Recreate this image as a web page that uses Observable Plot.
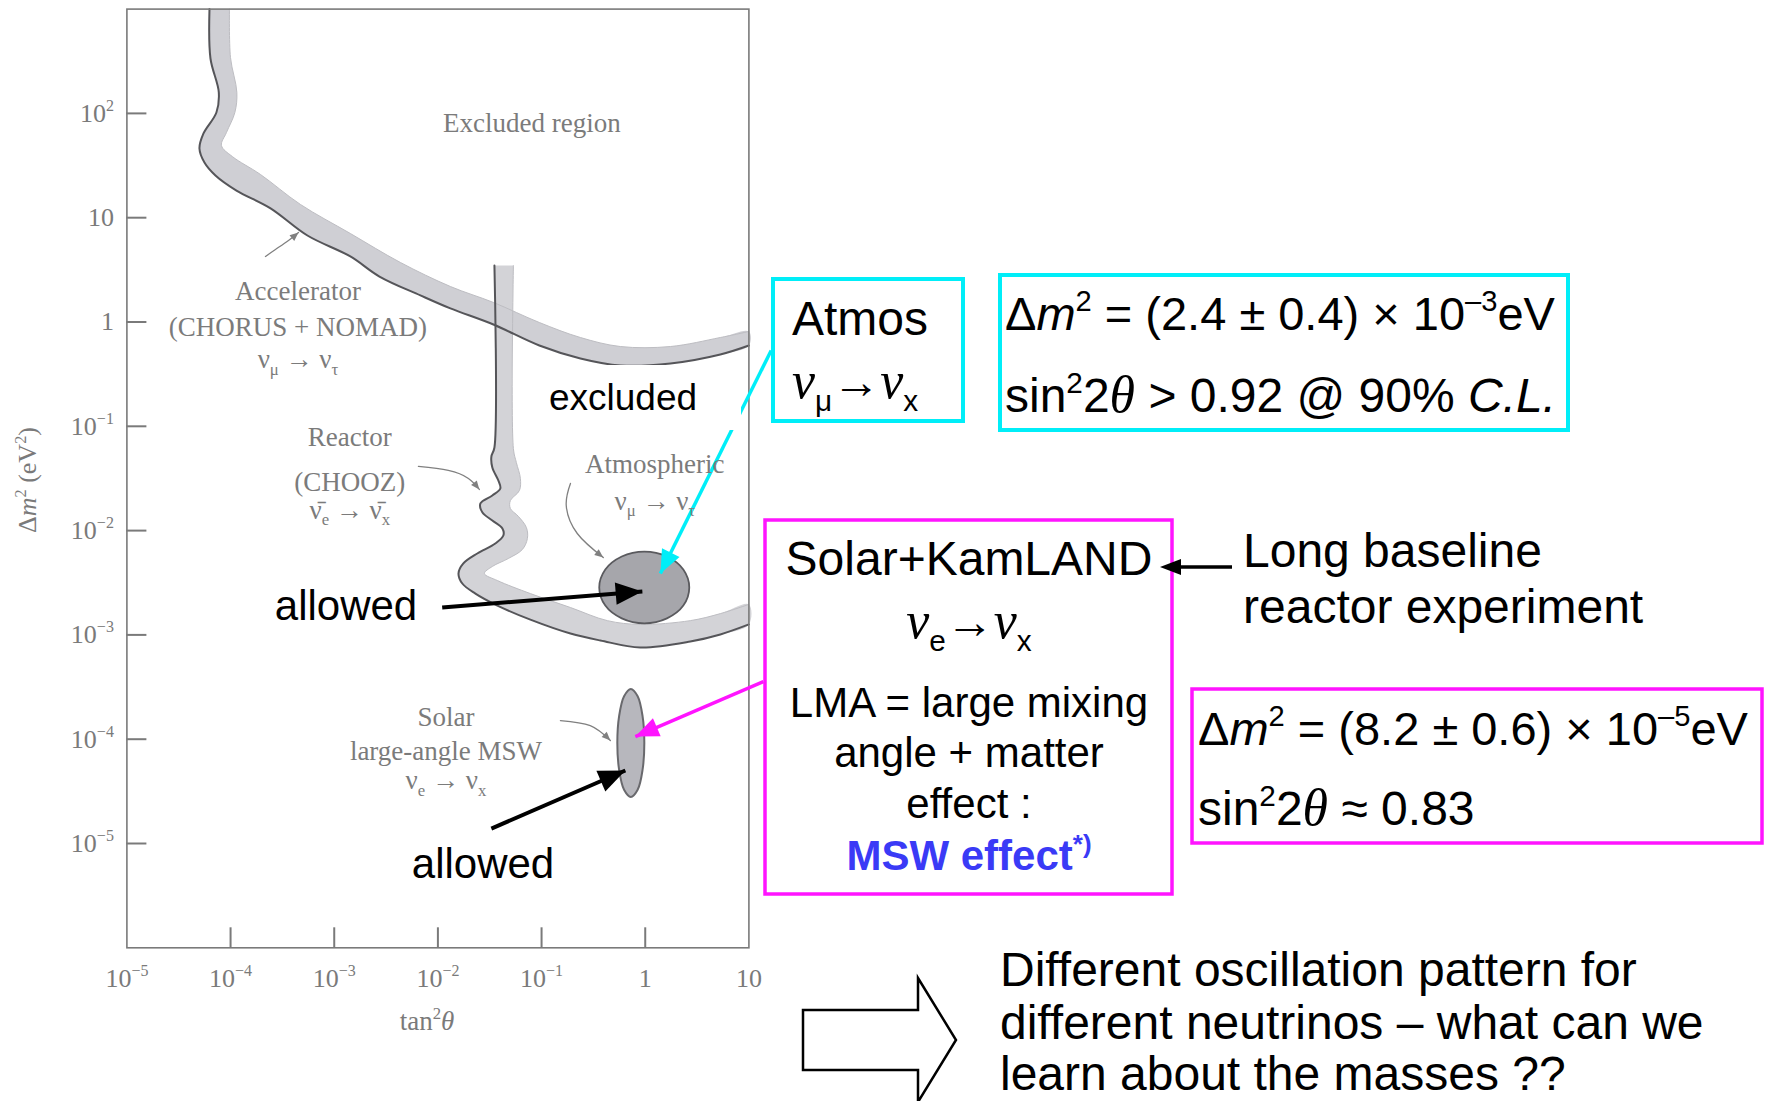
<!DOCTYPE html>
<html><head><meta charset="utf-8">
<script src="https://cdn.jsdelivr.net/npm/d3@7"></script>
<script src="https://cdn.jsdelivr.net/npm/@observablehq/plot@0.6"></script>
<style>
html,body{margin:0;padding:0;background:#fff;overflow:hidden;}
#wrap{position:relative;width:1770px;height:1101px;overflow:hidden;background:#fff;}
#wrap > svg{position:absolute;left:0;top:0;}
#overlay{pointer-events:none;}
</style></head><body><div id="wrap"></div>
<script>
// ---------------- DATA ----------------
const xTicks = [1e-5, 1e-4, 1e-3, 1e-2, 1e-1, 1, 10];
const xTickLabels = ["10^−5", "10^−4", "10^−3", "10^−2", "10^−1", "1", "10"];
const yTicks = [1e-5, 1e-4, 1e-3, 1e-2, 1e-1, 1, 10, 100];
const yTickLabels = ["10^−5", "10^−4", "10^−3", "10^−2", "10^−1", "1", "10", "10^2"];

// Accelerator (CHORUS + NOMAD) exclusion band: dark (allowed-side) edge and outer edge [tan²θ, Δm²]
const accelEdge = [[6.26e-5,1000],[6.40e-5,336],[7.70e-5,159],[7.30e-5,102],[5.48e-5,64.2],[5.01e-5,46.1],[5.60e-5,33.8],[7.15e-5,25.4],[1.14e-4,18.2],[2.43e-4,12.3],[5.51e-4,6.75],[1.43e-3,4.25],[2.73e-3,2.73],[6.78e-3,1.80],[1.32e-2,1.35],[3.43e-2,0.946],[9.52e-2,0.595],[0.237,0.447],[0.575,0.383],[1.75,0.400],[5.30,0.488],[10,0.595]];
const accelOuter = [[9.76e-5,1000],[9.98e-5,344],[1.15e-4,159],[1.10e-4,102],[9.13e-5,65.6],[8.17e-5,49.2],[1.04e-4,38.6],[1.94e-4,26.0],[4.72e-4,13.4],[1.43e-3,7.06],[4.35e-3,3.72],[1.32e-2,2.19],[3.43e-2,1.54],[9.52e-2,0.989],[0.237,0.710],[0.575,0.582],[1.75,0.582],[5.30,0.710],[10,0.811]];

// Reactor (CHOOZ) exclusion band
const reactorEdge = [[3.51e-2,3.48],[3.51e-2,6.26e-2],[3.28e-2,5.13e-2],[3.35e-2,4.03e-2],[3.83e-2,3.02e-2],[4.00e-2,2.53e-2],[3.35e-2,2.17e-2],[2.57e-2,1.82e-2],[2.69e-2,1.49e-2],[3.35e-2,1.25e-2],[4.19e-2,1.05e-2],[4.28e-2,8.97e-3],[3.58e-2,7.52e-3],[2.40e-2,6.03e-3],[1.76e-2,4.84e-3],[1.58e-2,3.88e-3],[1.72e-2,3.11e-3],[2.30e-2,2.49e-3],[3.75e-2,1.91e-3],[7.80e-2,1.40e-3],[0.19,1.03e-3],[0.369,8.84e-4],[0.897,7.57e-4],[2.72,8.64e-4],[5.30,1.01e-3],[10,1.26e-3]];
const reactorOuter = [[5.35e-2,3.48],[5.35e-2,6.12e-2],[5.71e-2,4.50e-2],[6.25e-2,3.16e-2],[6.11e-2,2.42e-2],[5.00e-2,1.94e-2],[5.00e-2,1.63e-2],[5.97e-2,1.37e-2],[7.14e-2,1.07e-2],[7.30e-2,8.40e-3],[6.53e-2,6.59e-3],[4.78e-2,5.40e-3],[3.35e-2,4.53e-3],[2.81e-2,3.88e-3],[3.75e-2,3.32e-3],[7.80e-2,2.49e-3],[0.19,1.83e-3],[0.431,1.37e-3],[0.897,1.26e-3],[2.72,1.37e-3],[5.30,1.60e-3],[10,1.96e-3]];

// Allowed regions (outline points)
const atmosRegion = [[2.66,2.85e-3],[2.33,4.24e-3],[1.62,5.65e-3],[0.98,6.3e-3],[0.594,5.65e-3],[0.412,4.24e-3],[0.360,2.85e-3],[0.412,1.91e-3],[0.594,1.44e-3],[0.98,1.29e-3],[1.62,1.44e-3],[2.33,1.91e-3]];
const solarRegion = [[0.98,9.20e-5],[0.942,1.67e-4],[0.845,2.58e-4],[0.726,3.03e-4],[0.625,2.58e-4],[0.56,1.67e-4],[0.538,9.20e-5],[0.56,5.07e-5],[0.625,3.27e-5],[0.726,2.79e-5],[0.845,3.27e-5],[0.942,5.07e-5]];

// Leader curves from the figure labels
const accelLeader = [[2.17e-4,4.25],[2.71e-4,4.96],[3.62e-4,6.04],[4.52e-4,7.21]];
const reactorLeader = [[6.49e-3,4.12e-2],[1.26e-2,3.77e-2],[1.97e-2,3.16e-2],[2.51e-2,2.48e-2]];
const atmosLeader = [[0.19,2.83e-2],[0.173,1.74e-2],[0.221,9.38e-3],[0.394,5.52e-3]];
const solarLeader = [[0.152,1.51e-4],[0.295,1.35e-4],[0.461,9.72e-5]];

// Figure labels (anchored at data coordinates)
const chartLabels = [
  {text: "Excluded region", x: 8.15e-2, y: 65.6},
  {text: "Accelerator", x: 4.52e-4, y: 1.61},
  {text: "(CHORUS + NOMAD)", x: 4.52e-4, y: 0.726},
  {text: "ν_{μ} → ν_{τ}", x: 4.52e-4, y: 0.358},
  {text: "Reactor", x: 1.43e-3, y: 6.34e-2},
  {text: "(CHOOZ)", x: 1.43e-3, y: 2.37e-2},
  {text: "ν̄_{e} → ν̄_{x}", x: 1.43e-3, y: 1.29e-2},
  {text: "Atmospheric", x: 1.25, y: 3.53e-2},
  {text: "ν_{μ} → ν_{τ}", x: 1.25, y: 1.56e-2},
  {text: "Solar", x: 1.21e-2, y: 1.32e-4},
  {text: "large-angle MSW", x: 1.21e-2, y: 6.25e-5},
  {text: "ν_{e} → ν_{x}", x: 1.21e-2, y: 3.27e-5}
];

// Annotation arrows pointing into the figure
const allowedArrows = [{x1: 1.10e-2, y1: 1.83e-3, x2: 0.938, y2: 2.61e-3}, {x1: 3.28e-2, y1: 1.39e-5, x2: 0.643, y2: 5.01e-5}];
const atmosPointer = [{x1: 16.4, y1: 0.533, x2: 1.40, y2: 3.88e-3}];
const solarPointer = [{x1: 13.8, y1: 3.57e-4, x2: 0.803, y2: 1.06e-4}];

// ---------------- RENDER ----------------
const SANS = "'Liberation Sans', Arial, Helvetica, sans-serif";
const SERIF = "'Liberation Serif', 'Times New Roman', serif";
const CYAN = "#00eef8", MAGENTA = "#ff14ff", BAND = "#cfcfd4", EDGE = "#555559", AXIS = "#7a7a7a";
const W = 1770, H = 1101;
const L0 = 126.4, R0 = 748.4, T0 = 8.6, B0 = 947.3;
const XY = {x: d => d[0], y: d => d[1]};
const poly = (a, b) => a.concat(b.slice().reverse());

const chart = Plot.plot({
  width: W, height: H,
  marginLeft: L0, marginRight: W - R0, marginTop: T0, marginBottom: H - B0,
  x: {type: "log", domain: [1e-5, 10]},
  y: {type: "log", domain: [1e-6, 1e3]},
  style: {background: "white", color: AXIS, fontFamily: SERIF, fontSize: "26px", overflow: "visible"},
  marks: [
    Plot.line(poly(accelEdge, accelOuter), {...XY, fill: BAND, stroke: "none", curve: "catmull-rom"}),
    Plot.line(poly(reactorEdge, reactorOuter), {...XY, fill: BAND, fillOpacity: 0.92, stroke: "none", curve: "catmull-rom"}),
    Plot.line(accelOuter, {...XY, stroke: "#bdbdc2", strokeWidth: 1, curve: "catmull-rom"}),
    Plot.line(reactorOuter, {...XY, stroke: "#bdbdc2", strokeWidth: 1, curve: "catmull-rom"}),
    Plot.line(accelEdge, {...XY, stroke: EDGE, strokeWidth: 2, curve: "catmull-rom"}),
    Plot.line(reactorEdge, {...XY, stroke: EDGE, strokeWidth: 2, curve: "catmull-rom"}),
    Plot.line(atmosRegion, {...XY, fill: "#a6a6ab", stroke: "#5a5a5e", strokeWidth: 1.8, curve: "catmull-rom-closed"}),
    Plot.line(solarRegion, {...XY, fill: "#b7b7bd", stroke: "#69696d", strokeWidth: 2, curve: "catmull-rom-closed"}),
    ...[accelLeader, reactorLeader, atmosLeader, solarLeader].map(l =>
      Plot.line(l, {...XY, stroke: "#808080", strokeWidth: 1.3, curve: "natural", markerEnd: "arrow"})),
    Plot.frame({stroke: AXIS, strokeWidth: 1.6}),
    Plot.ruleY(yTicks, {y: d => d, insetRight: (R0 - L0) - 20, stroke: AXIS, strokeWidth: 2}),
    Plot.ruleX(xTicks.filter(d => d > 1e-5 && d < 10), {x: d => d, insetTop: (B0 - T0) - 20, stroke: AXIS, strokeWidth: 2}),
    Plot.axisY({ticks: yTicks, tickSize: 0, tickPadding: 13, fontSize: 26, label: null,
      tickFormat: d => yTickLabels[yTicks.indexOf(d)]}),
    Plot.axisX({ticks: xTicks, tickSize: 0, tickPadding: 21, fontSize: 26, label: null,
      tickFormat: d => xTickLabels[xTicks.indexOf(d)]}),
    Plot.link(allowedArrows, {x1: "x1", y1: "y1", x2: "x2", y2: "y2", stroke: "#000", strokeWidth: 4, markerEnd: "arrow"}),
    Plot.link(atmosPointer, {x1: "x1", y1: "y1", x2: "x2", y2: "y2", stroke: CYAN, strokeWidth: 3.5, markerEnd: "arrow"}),
    Plot.link(solarPointer, {x1: "x1", y1: "y1", x2: "x2", y2: "y2", stroke: MAGENTA, strokeWidth: 3.5, markerEnd: "arrow"})
  ]
});

// filled arrow heads
d3.select(chart).selectAll("marker").each(function() {
  const m = d3.select(this);
  let c = m.attr("stroke");
  if (!c || c === "none") { const p = m.select("path"); c = (p.node() && p.attr("stroke")) || "#000"; }
  m.attr("viewBox", "-10 -5 10 10").attr("fill", c).attr("stroke", "none").attr("overflow", "visible");
  m.selectAll("*").remove();
  m.append("path").attr("d", "M-10,-4.2L0,0L-10,4.2Z");
});
// superscript tick labels
d3.select(chart).selectAll('g[aria-label$="tick label"] text').each(function() {
  const s = this.textContent;
  if (!s.includes("^")) return;
  const [b, e] = s.split("^");
  const t = d3.select(this); t.text(null);
  t.append("tspan").text(b);
  t.append("tspan").attr("dy", -11).attr("font-size", 16).text(e);
});
document.getElementById("wrap").appendChild(chart);

// ---------------- OVERLAY (slide annotations) ----------------
function segs(str) {
  const out = [], re = /(_\{[^}]*\}|\^\{[^}]*\}|\*\{[^}]*\}|~\{[^}]*\})/g;
  let last = 0, m;
  while ((m = re.exec(str))) {
    if (m.index > last) out.push({t: str.slice(last, m.index)});
    const k = m[0][0], inner = m[0].slice(2, -1);
    out.push(k === "_" ? {t: inner, sub: 1} : k === "^" ? {t: inner, sup: 1} : k === "*" ? {t: inner, i: 1} : {t: inner, i: 1, serif: 1});
    last = re.lastIndex;
  }
  if (last < str.length) out.push({t: str.slice(last)});
  return out;
}
function rich(g, x, y, str, o) {
  const size = o.size;
  const t = g.append("text").attr("x", x).attr("y", y)
    .attr("font-family", o.family || SANS).attr("font-size", size)
    .attr("fill", o.fill || "#000").attr("text-anchor", o.anchor || "start")
    .style("white-space", "pre");
  if (o.weight) t.attr("font-weight", o.weight);
  if (o.rotate != null) t.attr("transform", `rotate(${o.rotate},${x},${y})`);
  let shift = 0;
  for (const s of segs(str)) {
    const sp = t.append("tspan").text(s.t);
    let target = 0;
    if (s.sup) { target = -size * (o.supShift ?? 0.4); sp.attr("font-size", size * (o.supScale ?? 0.62)); }
    if (s.sub) { target = size * (o.subShift ?? 0.24); sp.attr("font-size", size * (o.subScale ?? 0.62)); }
    if (s.i) sp.attr("font-style", "italic");
    if (s.serif) { sp.attr("font-family", SERIF); sp.attr("font-size", size * 1.08); }
    if (target !== shift) { sp.attr("dy", target - shift); shift = target; }
  }
  return t;
}
const sx = chart.scale("x"), sy = chart.scale("y");
const ov = d3.create("svg").attr("id", "overlay").attr("width", W).attr("height", H).attr("viewBox", `0 0 ${W} ${H}`);

// white label box over the plot (hides part of band & pointer)
ov.append("rect").attr("x", 530).attr("y", 365).attr("width", 211).attr("height", 65).attr("fill", "#fff");

// figure labels
for (const L of chartLabels) rich(ov, sx.apply(L.x), sy.apply(L.y), L.text, {size: 27, family: SERIF, fill: "#7b7b7b", anchor: "middle"});
rich(ov, 36, 480, "Δ*{m}^{2} (eV^{2})", {size: 26, family: SERIF, fill: AXIS, anchor: "middle", rotate: -90});
rich(ov, 427, 1030, "tan^{2}*{θ}", {size: 27, family: SERIF, fill: AXIS, anchor: "middle"});

// slide labels
rich(ov, 623, 410, "excluded", {size: 37, anchor: "middle"});
rich(ov, 346, 620, "allowed", {size: 42, anchor: "middle"});
rich(ov, 483, 878, "allowed", {size: 42, anchor: "middle"});

const box = (x, y, w, h, c, sw) => ov.append("rect").attr("x", x).attr("y", y).attr("width", w).attr("height", h)
  .attr("fill", "none").attr("stroke", c).attr("stroke-width", sw);
box(773, 279, 190, 142, CYAN, 4);
box(1000, 275, 568, 155, CYAN, 4);
box(765, 520, 407, 374, MAGENTA, 3.5);
box(1192, 689, 570, 154, MAGENTA, 3.5);

rich(ov, 792, 335, "Atmos", {size: 48});
rich(ov, 792, 398, "~{ν}_{μ}→~{ν}_{x}", {size: 48, subShift: 0.28});
rich(ov, 1005, 330, "Δ*{m}^{2} = (2.4 ± 0.4) × 10^{–3}eV", {size: 47});
rich(ov, 1005, 412, "sin^{2}2~{θ} > 0.92 @ 90% *{C.L.}", {size: 48});

rich(ov, 969, 575, "Solar+KamLAND", {size: 48, anchor: "middle"});
rich(ov, 969, 638, "~{ν}_{e}→~{ν}_{x}", {size: 48, anchor: "middle", subShift: 0.28});
rich(ov, 969, 717, "LMA = large mixing", {size: 42, anchor: "middle"});
rich(ov, 969, 767, "angle + matter", {size: 42, anchor: "middle"});
rich(ov, 969, 818, "effect :", {size: 42, anchor: "middle"});
rich(ov, 969, 870, "MSW effect^{*)}", {size: 42, anchor: "middle", weight: "bold", fill: "#3a3af6"});

rich(ov, 1243, 567, "Long baseline", {size: 48});
rich(ov, 1243, 623, "reactor experiment", {size: 48});
ov.append("line").attr("x1", 1176).attr("y1", 567).attr("x2", 1232).attr("y2", 567).attr("stroke", "#000").attr("stroke-width", 3.5);
ov.append("polygon").attr("points", "1160,567 1181,559 1181,575").attr("fill", "#000");

rich(ov, 1198, 745, "Δ*{m}^{2} = (8.2 ± 0.6) × 10^{–5}eV", {size: 47});
rich(ov, 1198, 825, "sin^{2}2~{θ} ≈ 0.83", {size: 48});

ov.append("polygon").attr("points", "803,1010 918,1010 918,978 956,1040 918,1102 918,1070 803,1070")
  .attr("fill", "#fff").attr("stroke", "#000").attr("stroke-width", 2.5).attr("stroke-linejoin", "miter");
rich(ov, 1000, 986, "Different oscillation pattern for", {size: 48});
rich(ov, 1000, 1039, "different neutrinos – what can we", {size: 48});
rich(ov, 1000, 1090, "learn about the masses ??", {size: 48});

document.getElementById("wrap").appendChild(ov.node());
</script>
</body></html>
